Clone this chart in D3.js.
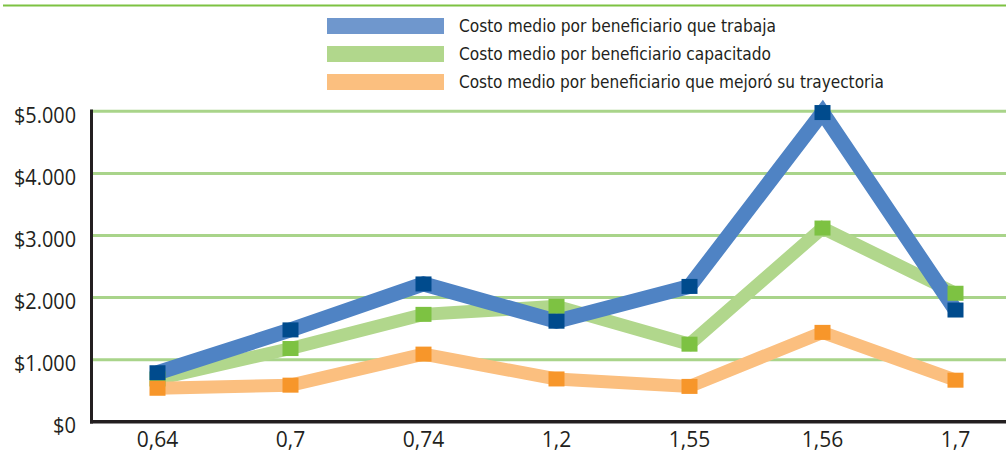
<!DOCTYPE html>
<html><head><meta charset="utf-8">
<script src="https://cdn.jsdelivr.net/npm/d3@7"></script>
<style>body{margin:0;background:#fff}svg{display:block}</style>
</head><body>
<svg id="c" width="1006" height="452"></svg>
<script>
const categories = ["0,64","0,7","0,74","1,2","1,55","1,56","1,7"];
const trabaja = [790, 1480, 2220, 1620, 2180, 4980, 1800];
const capacitado = [690, 1180, 1730, 1860, 1250, 3120, 2070];
const mejoro = [540, 590, 1090, 690, 570, 1440, 670];
const yTicks = [0, 1000, 2000, 3000, 4000, 5000];
const yTickLabels = ["$0","$1.000","$2.000","$3.000","$4.000","$5.000"];
const seriesNames = ["Costo medio por beneficiario que trabaja","Costo medio por beneficiario capacitado","Costo medio por beneficiario que mejoró su trayectoria"];

const svg = d3.select("#c");
const W = 1006;
const x = d3.scaleBand().domain(categories).range([91, 1022]);
const y = d3.scaleLinear().domain([0, 5000]).range([421.8, 111.3]);

// top rule
svg.append("line").attr("x1",3).attr("x2",W).attr("y1",5.5).attr("y2",5.5)
  .attr("stroke","#7dc242").attr("stroke-width",2);

// gridlines
svg.append("g").selectAll("line").data(yTicks.filter(d=>d>0)).join("line")
  .attr("x1",91).attr("x2",W).attr("y1",d=>y(d)).attr("y2",d=>y(d))
  .attr("stroke","#a9d48a").attr("stroke-width",3);

// y labels
const fontTick = "'Open Sans', sans-serif";
svg.append("g").selectAll("text").data(yTicks).join("text")
  .attr("x",76).attr("y",d=>y(d)+11.5).attr("text-anchor","end")
  .attr("font-family",fontTick).attr("font-size",22).attr("fill","#231f20")
  .attr("textLength",(d,i)=> i===0 ? 23 : 62).attr("lengthAdjust","spacingAndGlyphs")
  .text((d,i)=>yTickLabels[i]);

// x labels
svg.append("g").selectAll("text").data(categories).join("text")
  .attr("x",d=>x(d)+x.bandwidth()/2).attr("y",446.5).attr("text-anchor","middle")
  .attr("font-family",fontTick).attr("font-size",21).attr("fill","#231f20")
  .text(d=>d);

// axes
svg.append("line").attr("x1",91.5).attr("x2",91.5).attr("y1",109.5).attr("y2",423.5)
  .attr("stroke","#231f20").attr("stroke-width",3);
svg.append("line").attr("x1",90).attr("x2",W).attr("y1",421.8).attr("y2",421.8)
  .attr("stroke","#231f20").attr("stroke-width",3.5);

const series = [
  {name:seriesNames[0], values:trabaja, line:"#4f83c4", mark:"#004b8d", w:15, sw:"#6f97cd"},
  {name:seriesNames[1], values:capacitado, line:"#b1d78c", mark:"#7dc242", w:13, sw:"#b1d78c"},
  {name:seriesNames[2], values:mejoro, line:"#fbbf7f", mark:"#f7962a", w:13, sw:"#fbbf7f"}
];
const lineGen = d3.line().x((d,i)=>x(categories[i])+x.bandwidth()/2).y(d=>y(d));
const lineOrder = [1,0,2];
lineOrder.forEach(k=>{
  const s = series[k];
  svg.append("path").attr("d",lineGen(s.values)).attr("fill","none")
    .attr("stroke",s.line).attr("stroke-width",s.w).attr("stroke-linejoin","miter").attr("stroke-miterlimit",10);
});
const markOrder = [1,0,2];
markOrder.forEach(k=>{
  const s = series[k];
  svg.append("g").selectAll("rect").data(s.values).join("rect")
    .attr("x",(d,i)=>x(categories[i])+x.bandwidth()/2-8).attr("y",d=>y(d)-7.5)
    .attr("width",16).attr("height",15).attr("fill",s.mark);
});

// legend
const legW = [317, 312, 425];
const lg = svg.append("g");
series.forEach((s,i)=>{
  const cy = 26 + i*28;
  lg.append("rect").attr("x",327).attr("y",cy-8).attr("width",117).attr("height",16).attr("fill",s.sw);
  lg.append("text").attr("x",459).attr("y",cy).attr("dy","0.36em")
    .attr("font-family","'Liberation Sans Narrow','DejaVu Sans Condensed',sans-serif").attr("font-size",18)
    .attr("fill","#231f20").attr("textLength",legW[i]).attr("lengthAdjust","spacingAndGlyphs")
    .text(s.name);
});
</script>
</body></html>
